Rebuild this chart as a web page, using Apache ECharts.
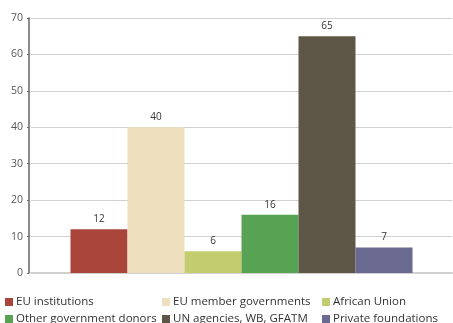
<!DOCTYPE html>
<html>
<head>
<meta charset="utf-8">
<script src="https://cdn.jsdelivr.net/npm/echarts@6/dist/echarts.min.js"></script>
<style>
  html, body { margin: 0; padding: 0; background: #fff; }
  #main { width: 453px; height: 323px; }
</style>
</head>
<body>
<div id="main"></div>
<script>
// data
var barOrder = ['EU institutions', 'EU member governments', 'African Union',
  'Other government donors', 'UN agencies, WB, GFATM', 'Private foundations'];
var values = [12, 40, 6, 16, 65, 7];
var barColors = ['#a9453a', '#eee0be', '#c3cc6e', '#58a353', '#5e5747', '#6a6a90'];
var yTicks = [0, 10, 20, 30, 40, 50, 60, 70];

var chart = echarts.init(document.getElementById('main'));
var font = 'Open Sans';

// legend is laid out 3 columns x 2 rows, one legend per item
var legendLeft = [5, 162, 322];
var legendTop = [296, 313];

var option = {
  animation: false,
  textStyle: { fontFamily: font },
  grid: { left: 31, right: 1, top: 18, bottom: 50, containLabel: false },
  legend: barOrder.map(function (name, i) {
    return {
      data: [name],
      left: legendLeft[i % 3],
      top: legendTop[Math.floor(i / 3)],
      itemWidth: 8,
      itemHeight: 8,
      icon: 'rect',
      padding: 0,
      selectedMode: false,
      textStyle: { fontFamily: font, fontSize: 11.5, color: '#333', padding: [0, 0, 0, -2] }
    };
  }),
  xAxis: {
    type: 'category',
    data: [''],
    axisLine: { lineStyle: { color: '#d0d0d0', width: 2 } },
    axisTick: { show: false },
    axisLabel: { show: false }
  },
  yAxis: {
    type: 'value',
    min: yTicks[0],
    max: yTicks[yTicks.length - 1],
    interval: 10,
    offset: 2,
    axisLine: { show: true, lineStyle: { color: '#666', width: 1.5 } },
    axisTick: { show: true, length: 2, lineStyle: { color: '#666' } },
    axisLabel: { color: '#555', fontSize: 10.5, margin: 6, fontFamily: font },
    splitLine: { lineStyle: { color: '#d0d0d0', width: 1 } }
  },
  series: barOrder.map(function (name, i) {
    return {
      name: name,
      type: 'bar',
      data: [values[i]],
      barWidth: 57,
      barGap: '0%',
      itemStyle: { color: barColors[i] },
      label: {
        show: true,
        position: 'top',
        distance: 5,
        color: '#333',
        fontSize: 10,
        fontFamily: font
      }
    };
  })
};

chart.setOption(option);
</script>
</body>
</html>
